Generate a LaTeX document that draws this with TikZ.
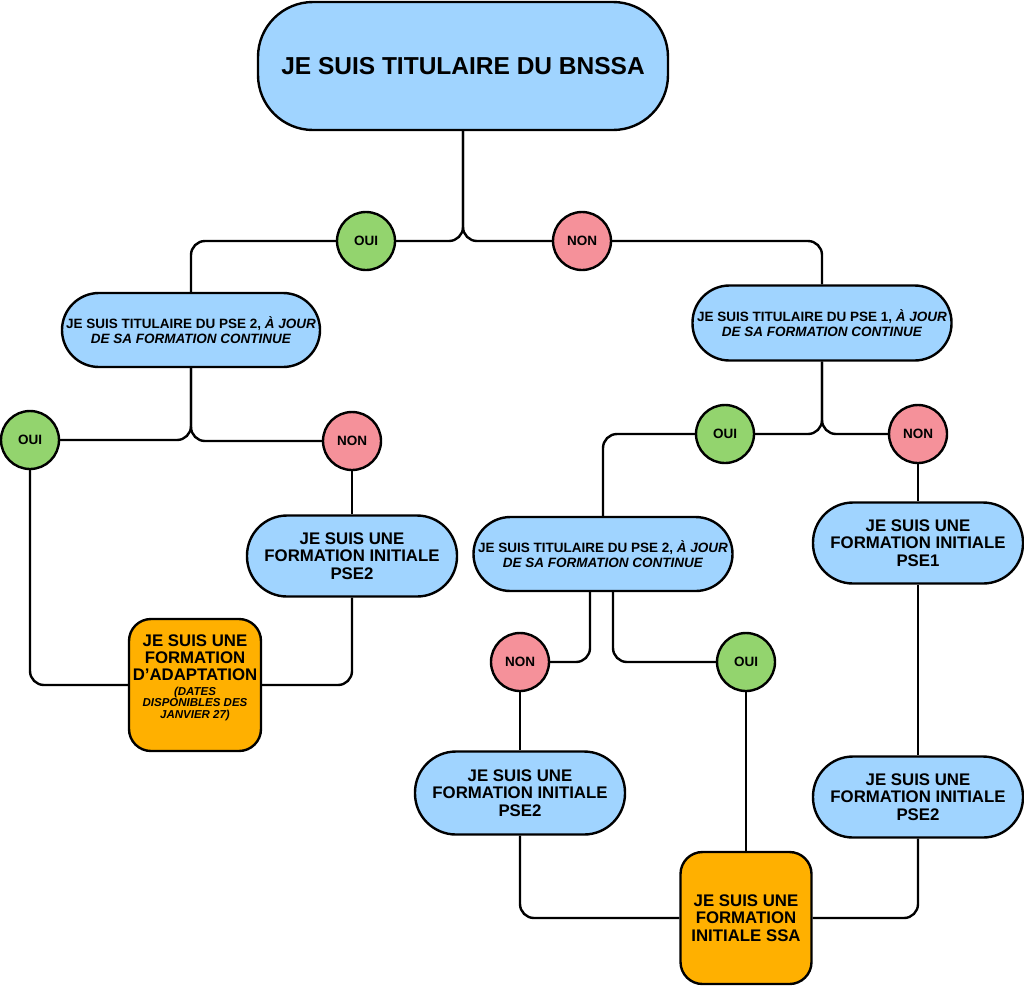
\documentclass[tikz,border=0pt]{standalone}
\usepackage{fontspec}
\setmainfont{Liberation Sans}
\begin{document}
\begin{tikzpicture}[x=1pt,y=-1pt,
  every node/.style={font=\bfseries},
  box/.style={draw=black,line width=2.4pt,align=center,inner sep=0pt},
  pill/.style={box,fill=bluefill,rounded corners=#1},
  pill/.default=38pt,
  orangebox/.style={box,fill=orangefill,rounded corners=22pt,minimum width=132pt,minimum height=132pt},
  yes/.style={draw=black,line width=2.4pt,circle,fill=greenfill,minimum size=58pt,inner sep=0pt,font=\bfseries\fontsize{13.5}{15}\selectfont},
  no/.style={yes,fill=redfill},
  qfont/.style={font=\bfseries\fontsize{13.5}{15}\selectfont},
  ifont/.style={font=\bfseries\fontsize{16.8}{17.5}\selectfont},
  link/.style={draw=black,line width=2.4pt,rounded corners=14pt}
]
\definecolor{bluefill}{HTML}{A0D4FF}
\definecolor{greenfill}{HTML}{93D46E}
\definecolor{redfill}{HTML}{F5919A}
\definecolor{orangefill}{HTML}{FFB000}
\useasboundingbox (0,0) rectangle (1024,986);

% nodes
\node[pill=55pt,minimum width=410pt,minimum height=128pt,font=\bfseries\fontsize{24.5}{28}\selectfont] (top) at (463,66) {JE SUIS TITULAIRE DU BNSSA};

\node[yes] (oui1) at (366,241) {OUI};
\node[no] (non1) at (582,241) {NON};

\node[pill=37pt,minimum width=258pt,minimum height=74pt,qfont] (q1) at (191,330) {JE SUIS TITULAIRE DU PSE 2, \textit{À JOUR}\\\textit{DE SA FORMATION CONTINUE}};
\node[pill=37pt,minimum width=259pt,minimum height=75pt,qfont] (q2) at (822,323) {JE SUIS TITULAIRE DU PSE 1, \textit{À JOUR}\\\textit{DE SA FORMATION CONTINUE}};

\node[yes] (oui2) at (30,440) {OUI};
\node[no] (non2) at (352,441) {NON};
\node[yes] (oui3) at (725,434) {OUI};
\node[no] (non3) at (918,434) {NON};

\node[pill=40pt,minimum width=210pt,minimum height=81pt,ifont] (i1) at (352,556) {JE SUIS UNE\\FORMATION INITIALE\\PSE2};
\node[pill=37pt,minimum width=259pt,minimum height=74pt,qfont] (q3) at (603,554) {JE SUIS TITULAIRE DU PSE 2, \textit{À JOUR}\\\textit{DE SA FORMATION CONTINUE}};
\node[pill=40pt,minimum width=210pt,minimum height=81pt,ifont] (i2) at (918,543) {JE SUIS UNE\\FORMATION INITIALE\\PSE1};

\node[orangebox] (adapt) at (195,685) {\raisebox{0pt}[\height][\dimexpr\depth+14pt\relax]{\parbox{130pt}{\centering\fontsize{16.8}{17}\selectfont JE SUIS UNE\\FORMATION\\D’ADAPTATION\par\vspace{2.5pt}\fontsize{11.5}{11.7}\selectfont\itshape (DATES\\DISPONIBLES DES\\JANVIER 27)\par}}};

\node[no] (non4) at (520,662) {NON};
\node[yes] (oui4) at (746,662) {OUI};

\node[pill=41pt,minimum width=210pt,minimum height=83pt,ifont] (i3) at (520,793) {JE SUIS UNE\\FORMATION INITIALE\\PSE2};
\node[pill=40pt,minimum width=210pt,minimum height=81pt,ifont] (i4) at (918,797) {JE SUIS UNE\\FORMATION INITIALE\\PSE2};

\node[orangebox,minimum width=131pt,ifont] (ssa) at (746,918) {JE SUIS UNE\\FORMATION\\INITIALE SSA};

% connectors
\path[link] (top.south) |- (oui1.east);
\path[link] (top.south) |- (non1.west);
\path[link] (oui1.west) -| (q1.north);
\path[link] (non1.east) -| (q2.north);

\path[link] (q1.south) |- (oui2.east);
\path[link] (q1.south) |- (non2.west);
\path[link] (oui2.south) |- (adapt.west);
\path[link] (non2.south) -- (i1.north);
\path[link] (i1.south) |- (adapt.east);

\path[link] (q2.south) |- (oui3.east);
\path[link] (q2.south) |- (non3.west);
\path[link] (oui3.west) -| (q3.north);
\path[link] (non3.south) -- (i2.north);

\path[link] ([xshift=-13pt]q3.south) |- (non4.east);
\path[link] ([xshift=10pt]q3.south) |- (oui4.west);
\path[link] (non4.south) -- (i3.north);
\path[link] (oui4.south) -- (ssa.north);
\path[link] (i3.south) |- (ssa.west);

\path[link] (i2.south) -- (i4.north);
\path[link] (i4.south) |- (ssa.east);
\end{tikzpicture}
\end{document}
